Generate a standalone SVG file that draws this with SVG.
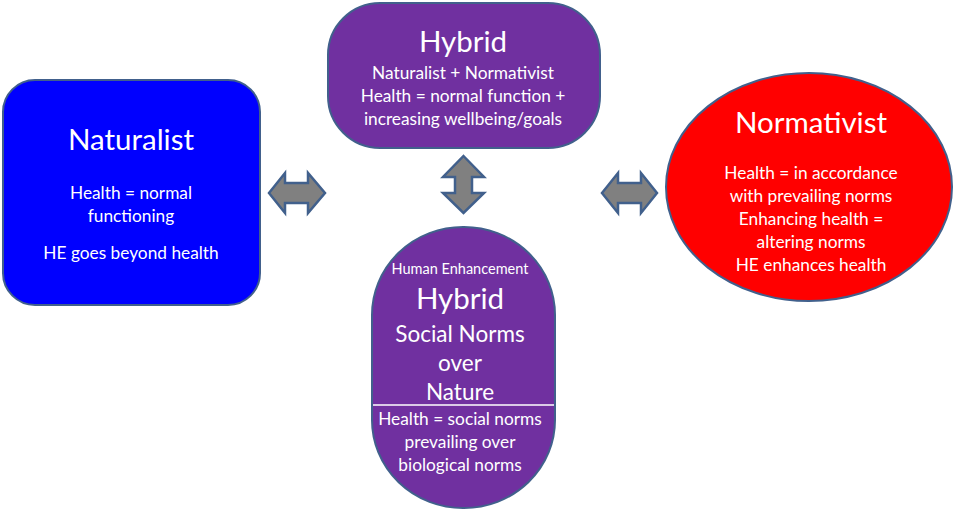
<svg xmlns="http://www.w3.org/2000/svg" width="953" height="514" viewBox="0 0 953 514">
<style>
.t{font-family:Lato,"Open Sans","Liberation Sans",sans-serif;fill:#fff;text-anchor:middle}
.h{font-size:29.5px}
.m{font-size:22.5px}
.s{font-size:17.3px}
.xs{font-size:14.5px}
.shape{stroke:#41608c;stroke-width:2}
.arr{fill:#808080;stroke:#41608c;stroke-width:2.5;stroke-linejoin:miter}
</style>
<rect width="953" height="514" fill="#fff"/>
<g id="naturalist">
<rect class="shape" x="3" y="80" width="257" height="225" rx="32" fill="#0000ff"/>
<text class="t h" x="131" y="150">Naturalist</text>
<text class="t s" x="131" y="199">Health = normal</text>
<text class="t s" x="131" y="222">functioning</text>
<text class="t s" x="131" y="259">HE goes beyond health</text>
</g>
<g id="hybrid-top">
<rect class="shape" x="328" y="3" width="272" height="145" rx="52" fill="#7030a0"/>
<text class="t h" x="463" y="52">Hybrid</text>
<text class="t s" x="463" y="79">Naturalist + Normativist</text>
<text class="t s" x="463" y="102">Health = normal function +</text>
<text class="t s" x="463" y="125">increasing wellbeing/goals</text>
</g>
<g id="normativist">
<ellipse class="shape" cx="809" cy="187" rx="143" ry="114" fill="#ff0000"/>
<text class="t h" x="811" y="133">Normativist</text>
<text class="t s" x="811" y="179">Health = in accordance</text>
<text class="t s" x="811" y="202">with prevailing norms</text>
<text class="t s" x="811" y="225">Enhancing health =</text>
<text class="t s" x="811" y="248">altering norms</text>
<text class="t s" x="811" y="271">HE enhances health</text>
</g>
<g id="hybrid-bottom">
<rect class="shape" x="372" y="227" width="183" height="281" rx="91" ry="88" fill="#7030a0"/>
<line x1="373" y1="405" x2="554" y2="405" stroke="#fff" stroke-width="1.5"/>
<text class="t xs" x="460" y="274">Human Enhancement</text>
<text class="t h" x="460" y="309">Hybrid</text>
<text class="t m" x="460" y="342">Social Norms</text>
<text class="t m" x="460" y="371">over</text>
<text class="t m" x="460" y="400">Nature</text>
<text class="t s" x="460" y="425">Health = social norms</text>
<text class="t s" x="460" y="448">prevailing over</text>
<text class="t s" x="460" y="471">biological norms</text>
</g>
<g id="connectors">
<polygon class="arr" points="269,193 285,173 285,183 308,183 308,173 325,193 308,213 308,203 285,203 285,213"/>
<polygon class="arr" points="463.5,156 484,177 472,177 472,193 484,193 463.5,213 443,193 455,193 455,177 443,177"/>
<polygon class="arr" points="602,193 618,173 618,183 641,183 641,173 657,193 641,213 641,203 618,203 618,213"/>
</g>
</svg>
